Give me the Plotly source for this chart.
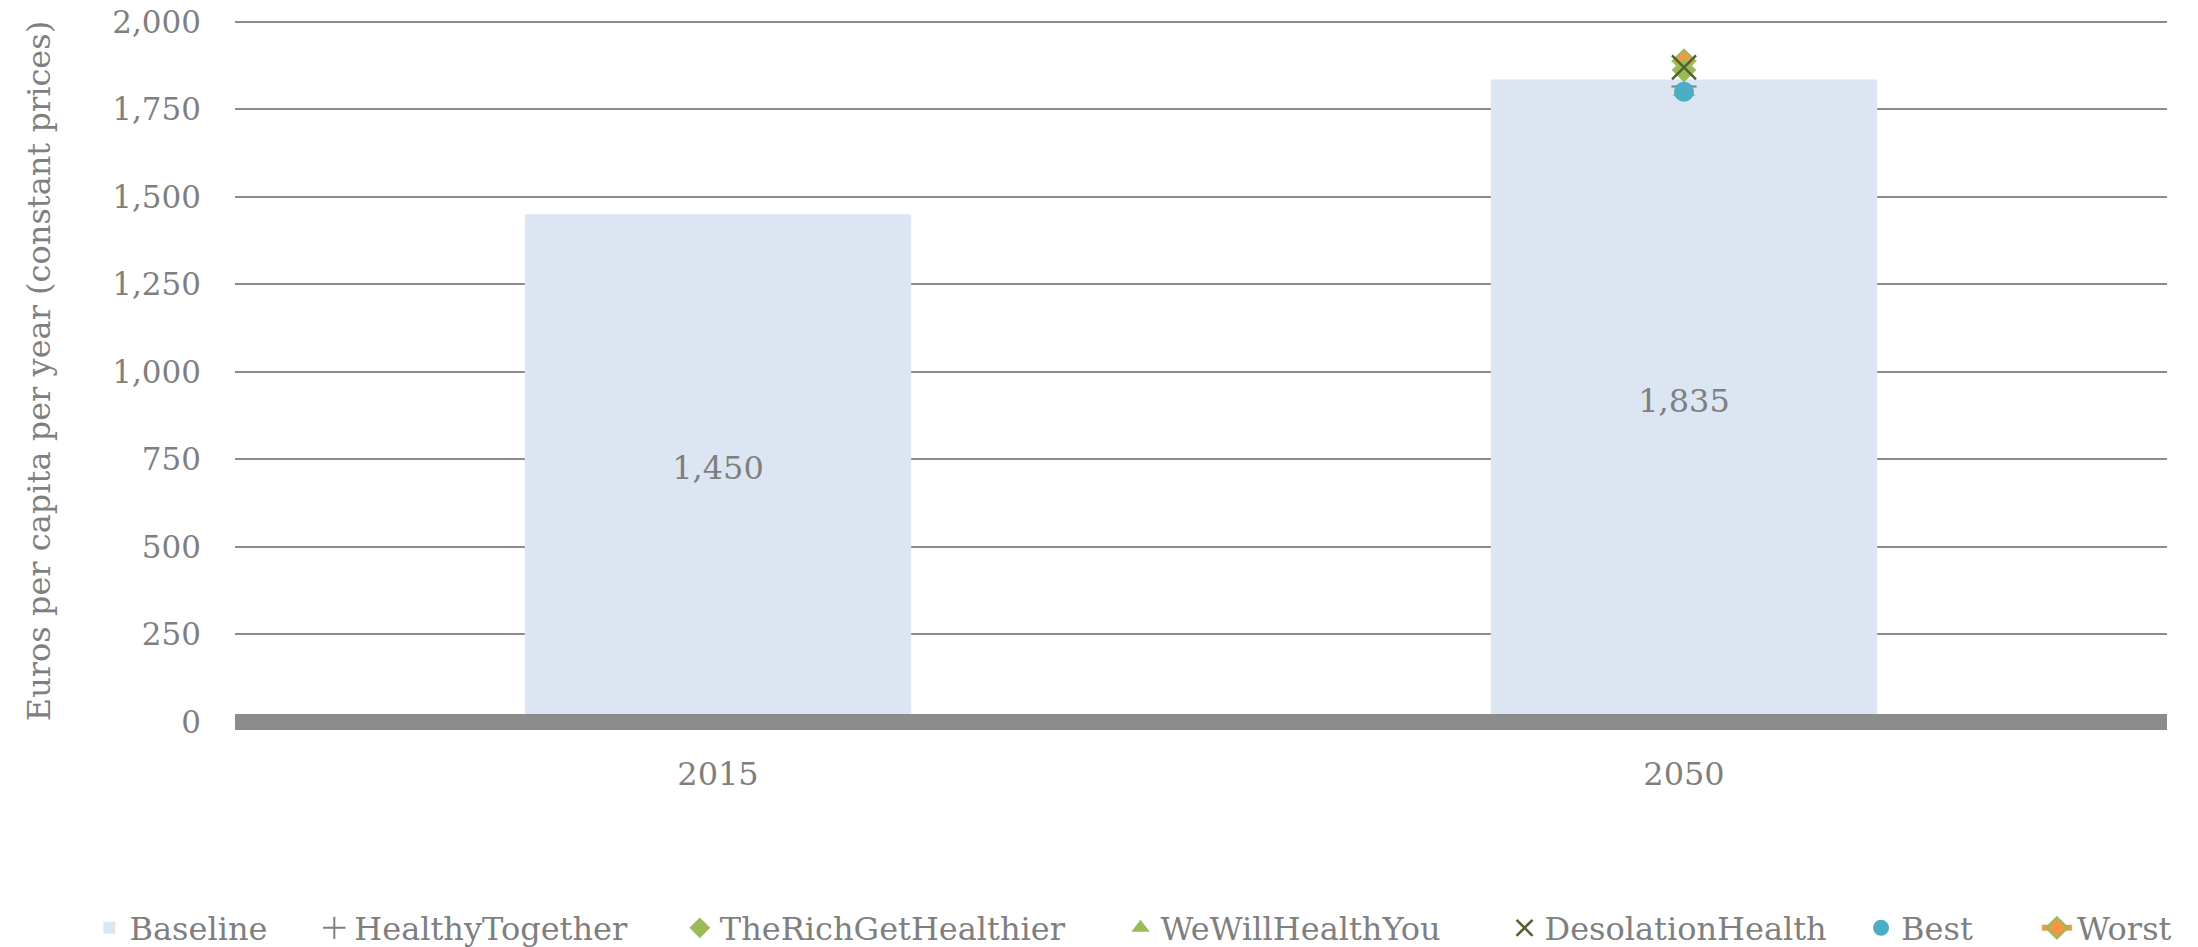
import plotly.graph_objects as go

# Health spending per capita, baseline and scenario outcomes
years = ["2015", "2050"]
baseline = [1450, 1835]

scenario_year = ["2050"]
healthy_together = [1815]
rich_get_healthier = [1862]
we_will_health_you = [1802]
desolation_health = [1870]
best = [1800]
worst = [1888]

y_ticks = [0, 250, 500, 750, 1000, 1250, 1500, 1750, 2000]
y_tick_text = ["0", "250", "500", "750", "1,000", "1,250", "1,500", "1,750", "2,000"]

GREY = "#7f7f7f"
FONT = "DejaVu Serif"
FS = 32

fig = go.Figure()

fig.add_trace(go.Bar(
    name="Baseline", x=years, y=baseline, legend="legend",
    marker=dict(color="#dce6f2", line=dict(width=0)),
    width=0.4,
    texttemplate="%{y:,.0f}", textposition="inside", insidetextanchor="middle",
    textfont=dict(family=FONT, size=FS, color=GREY),
    constraintext="none",
))

# scenario markers; drawing order chosen so overlapping symbols stack as shown
fig.add_trace(go.Scatter(
    name="HealthyTogether", x=scenario_year, y=healthy_together, mode="markers", legend="legend2",
    marker=dict(symbol="cross-thin", size=18, color=GREY, line=dict(width=2, color=GREY)),
))
fig.add_trace(go.Scatter(
    name="WeWillHealthYou", x=scenario_year, y=we_will_health_you, mode="markers", legend="legend4",
    marker=dict(symbol="triangle-up", size=20, color="#9bbb59"),
))
fig.add_trace(go.Scatter(
    name="Worst", x=scenario_year, y=worst, mode="lines+markers", legend="legend7",
    line=dict(color="#f79646", width=6),
    marker=dict(symbol="diamond", size=17, color="#f79646", line=dict(width=2.5, color="#9bbb59")),
))
fig.add_trace(go.Scatter(
    name="TheRichGetHealthier", x=scenario_year, y=rich_get_healthier, mode="markers", legend="legend3",
    marker=dict(symbol="diamond", size=19, color="#9bbb59"),
))
fig.add_trace(go.Scatter(
    name="DesolationHealth", x=scenario_year, y=desolation_health, mode="markers", legend="legend5",
    marker=dict(symbol="x-thin", size=24, color="#4f6228", line=dict(width=2.5, color="#4f6228")),
))
fig.add_trace(go.Scatter(
    name="Best", x=scenario_year, y=best, mode="markers", legend="legend6",
    marker=dict(symbol="circle", size=20, color="#4bacc6"),
))

# heavy baseline at zero, drawn over the bars (paper refs so it is not clipped)
fig.add_shape(type="line", xref="paper", yref="paper", x0=0, x1=1, y0=0, y1=0,
              line=dict(color="#8c8c8c", width=16), layer="above")

# one legend box per entry so the row is spread across the width
legend_x = {"legend": 0.0407, "legend2": 0.143, "legend3": 0.3093, "legend4": 0.5098,
            "legend5": 0.6845, "legend6": 0.8467, "legend7": 0.9267}
legend_boxes = {
    name: dict(orientation="h", xref="container", yref="container",
               x=x, xanchor="left", y=0.02, yanchor="middle",
               font=dict(family=FONT, size=FS, color=GREY), itemwidth=30)
    for name, x in legend_x.items()
}

fig.update_layout(
    width=2198, height=947,
    margin=dict(l=235, r=31, t=20, b=225),
    paper_bgcolor="white", plot_bgcolor="white",
    font=dict(family=FONT, size=FS, color=GREY),
    bargap=0.6,
    showlegend=True,
    xaxis=dict(
        type="category", showgrid=False, zeroline=False, showline=False,
        ticks="", ticklabelstandoff=30, automargin=False,
        tickfont=dict(family=FONT, size=FS, color=GREY),
    ),
    yaxis=dict(
        range=[0, 2005], tickvals=y_ticks, ticktext=y_tick_text,
        showgrid=True, gridcolor="#8c8c8c", gridwidth=2,
        zeroline=False, showline=False, ticks="", ticklabelstandoff=33,
        ticklabeloverflow="allow", automargin=False,
        tickfont=dict(family=FONT, size=31, color=GREY),
        title=dict(text="Euros per capita per year (constant prices)", standoff=52,
                   font=dict(family=FONT, size=FS, color=GREY)),
    ),
    **legend_boxes,
)

fig.write_html("out.html")
